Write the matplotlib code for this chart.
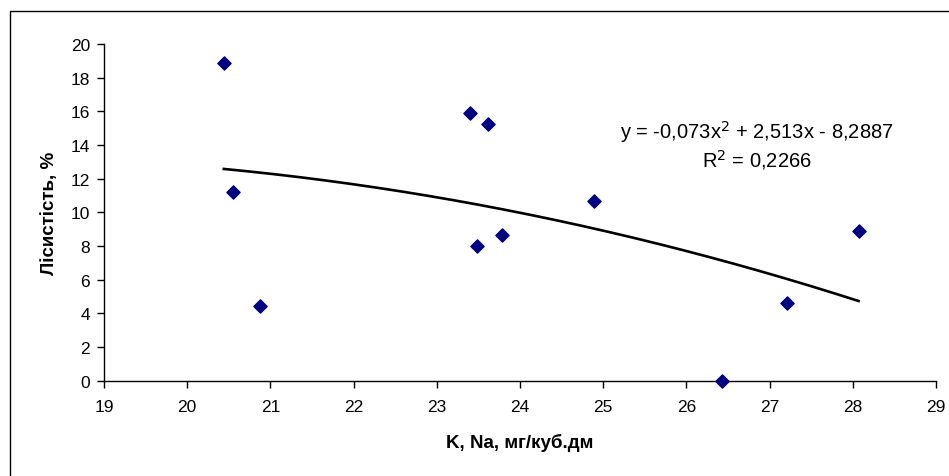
import numpy as np
import matplotlib.pyplot as plt
from matplotlib.patches import Rectangle

# values
k_na = [20.44, 20.55, 20.87, 23.40, 23.61, 23.48, 23.78, 24.89, 26.43, 27.21, 28.07]
lisistist = [18.86, 11.23, 4.46, 15.89, 15.23, 7.99, 8.66, 10.66, 0.0, 4.62, 8.89]
# trend line coefficients as printed on the chart
coef = [-0.073, 2.513, -8.2887]
r2 = 0.2266

font = ['Liberation Sans', 'DejaVu Sans']

fig = plt.figure(figsize=(9.49, 4.77), dpi=100)
ax = fig.add_axes([0.1096, 0.1998, 0.8767, 0.7059])

# outer chart frame
fig.patches.append(Rectangle((10/949, -0.1), 1.2, 0.1 + (477-12)/477, transform=fig.transFigure,
                             fill=False, edgecolor='black', linewidth=1.0))

ax.scatter(k_na, lisistist, marker='D', s=45, color='#000080', zorder=3, clip_on=False)

xs = np.linspace(min(k_na), max(k_na), 200)
ax.plot(xs, np.polyval(coef, xs), color='black', linewidth=1.9, zorder=2)

ax.set_xlim(19, 29)
ax.set_ylim(0, 20)
ax.set_xticks(range(19, 30))
ax.set_yticks(range(0, 21, 2))
for s in ['top', 'right']:
    ax.spines[s].set_visible(False)
for s in ['left', 'bottom']:
    ax.spines[s].set_linewidth(1.0)
ax.tick_params(direction='out', length=5, width=1.0, labelsize=12.5)
ax.tick_params(axis='x', pad=8)
ax.tick_params(axis='y', pad=5)
for lab in ax.get_xticklabels() + ax.get_yticklabels():
    lab.set_family(font)

ax.set_xlabel('K, Na, мг/куб.дм', family=font, fontsize=13.5, fontweight='bold', labelpad=14)
ax.set_ylabel('Лісистість, %', family=font, fontsize=13.5, fontweight='bold', labelpad=9)

eq = 'y = ' + '{:.3f}'.format(coef[0]).replace('.', ',') + 'x$^2$ + ' + \
     '{:.3f}'.format(coef[1]).replace('.', ',') + 'x - ' + \
     '{:.4f}'.format(-coef[2]).replace('.', ',')
ax.text(26.85, 14.84, eq, family=font, fontsize=14.5, ha='center', va='center')
ax.text(26.85, 13.17, 'R$^2$ = ' + '{:.4f}'.format(r2).replace('.', ','), family=font,
        fontsize=14.5, ha='center', va='center')

fig.savefig('out.png', dpi=100)
